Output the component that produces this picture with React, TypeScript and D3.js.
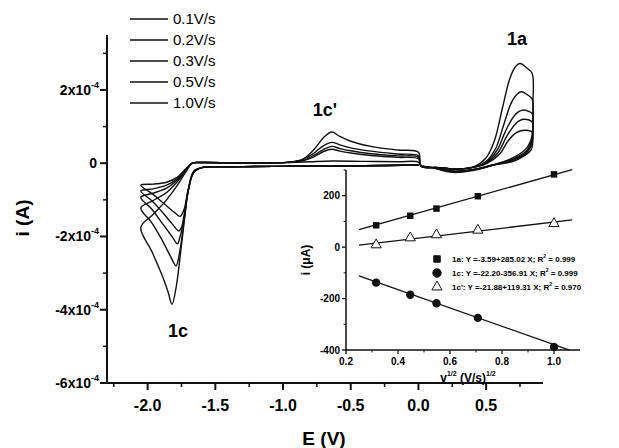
import React from 'react'
import * as d3 from 'd3'

// scan rates (legend)
const rates = ['0.1V/s', '0.2V/s', '0.3V/s', '0.5V/s', '1.0V/s']

// CV traces: [E (V), i (x1e-4 A)]
const cv01 = [
  [0.0, -0.05], [-0.4, -0.07], [-0.9, -0.08], [-1.4, -0.1], [-1.6, -0.12], [-1.66, -0.22], [-1.7, -0.7], [-1.73, -1.25], [-1.76, -1.45], [-1.8, -1.35], [-1.88, -1.1], [-1.96, -0.85], [-2.05, -0.6],
  [-1.96, -0.57], [-1.86, -0.52], [-1.78, -0.38], [-1.72, -0.16], [-1.67, 0.0], [-1.6, 0.02], [-1.2, 0.0], [-0.95, 0.02], [-0.8, 0.04], [-0.64, 0.06], [-0.4, 0.05], [-0.15, 0.04], [0.0, 0.03],
  [0.02, -0.08], [0.15, -0.12], [0.3, -0.16], [0.42, -0.1], [0.5, -0.02], [0.6, 0.25], [0.66, 0.6], [0.71, 0.8], [0.75, 0.88], [0.79, 0.9], [0.84, 0.85], [0.845, 0.6], [0.83, 0.35], [0.78, 0.2], [0.7, 0.05], [0.55, -0.05], [0.4, -0.18], [0.25, -0.22], [0.1, -0.12], [0.02, -0.08],
]
const cv02 = [
  [0.0, -0.05], [-0.4, -0.07], [-0.9, -0.08], [-1.4, -0.1], [-1.6, -0.12], [-1.66, -0.25], [-1.7, -0.75], [-1.73, -1.4], [-1.75, -1.75], [-1.77, -1.85], [-1.82, -1.65], [-1.9, -1.3], [-1.97, -1.02], [-2.05, -0.76],
  [-1.96, -0.7], [-1.86, -0.6], [-1.78, -0.42], [-1.72, -0.18], [-1.67, 0.0], [-1.6, 0.02], [-1.2, 0.0], [-0.95, 0.03], [-0.85, 0.07], [-0.77, 0.18], [-0.7, 0.32], [-0.64, 0.38], [-0.58, 0.33], [-0.5, 0.28], [-0.35, 0.21], [-0.15, 0.16], [0.0, 0.12],
  [0.02, -0.08], [0.15, -0.12], [0.3, -0.16], [0.42, -0.1], [0.5, 0.0], [0.59, 0.3], [0.65, 0.72], [0.7, 1.0], [0.74, 1.15], [0.78, 1.2], [0.84, 1.12], [0.845, 0.8], [0.83, 0.45], [0.79, 0.25], [0.7, 0.08], [0.55, -0.05], [0.4, -0.18], [0.25, -0.22], [0.1, -0.12], [0.02, -0.08],
]
const cv03 = [
  [0.0, -0.05], [-0.4, -0.07], [-0.9, -0.08], [-1.4, -0.1], [-1.6, -0.12], [-1.66, -0.25], [-1.7, -0.75], [-1.73, -1.5], [-1.76, -2.0], [-1.78, -2.2], [-1.82, -2.0], [-1.9, -1.6], [-1.97, -1.25], [-2.05, -0.93],
  [-1.96, -0.82], [-1.86, -0.68], [-1.78, -0.45], [-1.72, -0.2], [-1.67, 0.0], [-1.6, 0.02], [-1.2, 0.0], [-0.95, 0.03], [-0.85, 0.08], [-0.77, 0.22], [-0.7, 0.38], [-0.64, 0.46], [-0.58, 0.4], [-0.5, 0.34], [-0.35, 0.26], [-0.15, 0.2], [0.0, 0.16],
  [0.02, -0.08], [0.15, -0.12], [0.3, -0.16], [0.42, -0.1], [0.5, 0.02], [0.58, 0.35], [0.64, 0.85], [0.69, 1.2], [0.73, 1.38], [0.77, 1.45], [0.81, 1.42], [0.84, 1.35], [0.845, 0.95], [0.83, 0.5], [0.79, 0.28], [0.7, 0.1], [0.55, -0.05], [0.4, -0.18], [0.25, -0.22], [0.1, -0.12], [0.02, -0.08],
]
const cv05 = [
  [0.0, -0.05], [-0.4, -0.07], [-0.9, -0.08], [-1.4, -0.1], [-1.6, -0.12], [-1.66, -0.25], [-1.7, -0.75], [-1.73, -1.55], [-1.76, -2.35], [-1.79, -2.8], [-1.83, -2.55], [-1.9, -2.05], [-1.97, -1.62], [-2.05, -1.22],
  [-1.96, -1.02], [-1.86, -0.8], [-1.78, -0.5], [-1.72, -0.22], [-1.67, 0.0], [-1.6, 0.02], [-1.2, 0.0], [-0.95, 0.03], [-0.85, 0.1], [-0.77, 0.28], [-0.7, 0.48], [-0.64, 0.57], [-0.58, 0.5], [-0.5, 0.42], [-0.35, 0.33], [-0.15, 0.25], [0.0, 0.2],
  [0.02, -0.08], [0.15, -0.12], [0.3, -0.16], [0.42, -0.1], [0.5, 0.05], [0.57, 0.4], [0.63, 1.05], [0.68, 1.6], [0.72, 1.85], [0.76, 1.95], [0.8, 1.88], [0.84, 1.75], [0.845, 1.2], [0.835, 0.6], [0.8, 0.35], [0.7, 0.12], [0.55, -0.05], [0.4, -0.18], [0.25, -0.22], [0.1, -0.12], [0.02, -0.08],
]
const cv10 = [
  [0.0, -0.05], [-0.4, -0.07], [-0.9, -0.08], [-1.4, -0.1], [-1.6, -0.12], [-1.66, -0.25], [-1.7, -0.75], [-1.73, -1.6], [-1.76, -2.55], [-1.79, -3.4], [-1.82, -3.85], [-1.85, -3.5], [-1.9, -3.0], [-1.97, -2.4], [-2.05, -1.75],
  [-1.96, -1.4], [-1.86, -1.0], [-1.78, -0.6], [-1.72, -0.25], [-1.67, 0.0], [-1.6, 0.02], [-1.2, 0.0], [-0.95, 0.03], [-0.85, 0.12], [-0.77, 0.38], [-0.7, 0.7], [-0.64, 0.85], [-0.58, 0.73], [-0.5, 0.6], [-0.35, 0.46], [-0.15, 0.36], [0.0, 0.3],
  [0.02, -0.08], [0.15, -0.12], [0.3, -0.16], [0.42, -0.08], [0.5, 0.15], [0.56, 0.6], [0.62, 1.5], [0.67, 2.25], [0.71, 2.6], [0.75, 2.72], [0.8, 2.6], [0.84, 2.45], [0.845, 1.6], [0.84, 0.75], [0.8, 0.42], [0.7, 0.15], [0.55, -0.05], [0.4, -0.2], [0.25, -0.25], [0.1, -0.12], [0.02, -0.08],
]
const traces = [cv01, cv02, cv03, cv05, cv10]

// inset: peak currents (uA) vs sqrt(scan rate)
const sqrtRate = [0.316, 0.447, 0.548, 0.707, 1.0]
const peak1a = [85, 122, 150, 198, 283]
const peak1c = [-138, -185, -218, -275, -388]
const peak1cp = [5, 32, 44, 62, 88]
const fitIntercept = [-3.59, -22.2, -21.88]
const fitSlope = [285.02, -356.91, 119.31]
const fitText = [
  '1a: Y =-3.59+285.02 X; R',
  '1c: Y =-22.20-356.91 X; R',
  "1c': Y =-21.88+119.31 X; R",
]
const fitR2 = ['0.999', '0.999', '0.970']

const xTicks = [-2.0, -1.5, -1.0, -0.5, 0.0, 0.5]
const yTicks = [2, 0, -2, -4, -6]
const insetXTicks = [0.2, 0.4, 0.6, 0.8, 1.0]
const insetYTicks = [200, 0, -200, -400]

const font = "'Liberation Sans', Arial, sans-serif"

export default function App() {
  const x = d3.scaleLinear().domain([-2.3, 0.92]).range([107, 543])
  const y = d3.scaleLinear().domain([-6, 3.5]).range([383, 35])
  const ix = d3.scaleLinear().domain([0.2, 1.1]).range([346, 580])
  const iy = d3.scaleLinear().domain([-400, 300]).range([350, 170])

  const line = d3.line<number[]>()
    .x(d => x(d[0]))
    .y(d => y(d[1]))
    .curve(d3.curveCatmullRom.alpha(0.5))

  const xMinor = d3.range(-2.25, 0.8, 0.5)
  const yMinor = [-5, -3, -1, 1, 3]
  const ixMinor = [0.3, 0.5, 0.7, 0.9]
  const iyMinor = [-300, -100, 100, 300]

  const tri = d3.symbol().type(d3.symbolTriangle).size(45)()
  const sq = d3.symbol().type(d3.symbolSquare).size(42)()
  const circ = d3.symbol().type(d3.symbolCircle).size(55)()

  return (
    <svg width={619} height={448} style={{ position: 'absolute', left: 0, top: 0, background: '#fff' }} fontFamily={font}>
      {/* CV traces */}
      {traces.map((t, k) => (
        <path key={k} d={line(t) || ''} fill="none" stroke="#111" strokeWidth={1.4} />
      ))}

      {/* main axes */}
      <line x1={107} x2={107} y1={35} y2={384} stroke="#111" strokeWidth={2} />
      <line x1={106} x2={543} y1={383} y2={383} stroke="#111" strokeWidth={2} />
      {xTicks.map(t => (
        <g key={t}>
          <line x1={x(t)} x2={x(t)} y1={383} y2={390} stroke="#111" strokeWidth={2} />
          <text x={x(t)} y={411} textAnchor="middle" fontSize={16} fontWeight="bold">{t.toFixed(1)}</text>
        </g>
      ))}
      {xMinor.map(t => (
        <line key={t} x1={x(t)} x2={x(t)} y1={383} y2={387} stroke="#111" strokeWidth={1.5} />
      ))}
      {yTicks.map(t => (
        <g key={t}>
          <line x1={100} x2={107} y1={y(t)} y2={y(t)} stroke="#111" strokeWidth={2} />
          {t === 0 ? (
            <text x={97} y={y(t) + 5} textAnchor="end" fontSize={14} fontWeight="bold">0</text>
          ) : (
            <text x={99} y={y(t) + 5} textAnchor="end" fontSize={14} fontWeight="bold">
              {t}x10<tspan fontSize={9} dy={-7}>-4</tspan>
            </text>
          )}
        </g>
      ))}
      {yMinor.map(t => (
        <line key={t} x1={103} x2={107} y1={y(t)} y2={y(t)} stroke="#111" strokeWidth={1.5} />
      ))}
      <text x={324} y={445} textAnchor="middle" fontSize={19} fontWeight="bold">E (V)</text>
      <text transform="translate(29,218) rotate(-90)" textAnchor="middle" fontSize={19} fontWeight="bold">i (A)</text>

      {/* peak labels */}
      <text x={517} y={45} textAnchor="middle" fontSize={18} fontWeight="bold">1a</text>
      <text x={325} y={116} textAnchor="middle" fontSize={18} fontWeight="bold">1c'</text>
      <text x={178} y={337} textAnchor="middle" fontSize={18} fontWeight="bold">1c</text>

      {/* legend */}
      {rates.map((r, k) => (
        <g key={r}>
          <line x1={130} x2={168} y1={19 + k * 21} y2={19 + k * 21} stroke="#111" strokeWidth={1.6} />
          <text x={173} y={24 + k * 21} fontSize={15}>{r}</text>
        </g>
      ))}

      {/* inset axes */}
      <line x1={346} x2={346} y1={170} y2={351} stroke="#111" strokeWidth={1.5} />
      <line x1={345} x2={580} y1={350} y2={350} stroke="#111" strokeWidth={1.5} />
      {insetXTicks.map(t => (
        <g key={t}>
          <line x1={ix(t)} x2={ix(t)} y1={350} y2={354} stroke="#111" strokeWidth={1.3} />
          <text x={ix(t)} y={365} textAnchor="middle" fontSize={10} fontWeight="bold">{t.toFixed(1)}</text>
        </g>
      ))}
      {ixMinor.map(t => (
        <line key={t} x1={ix(t)} x2={ix(t)} y1={350} y2={352.5} stroke="#111" strokeWidth={1} />
      ))}
      {insetYTicks.map(t => (
        <g key={t}>
          <line x1={342} x2={346} y1={iy(t)} y2={iy(t)} stroke="#111" strokeWidth={1.3} />
          <text x={340} y={iy(t) + 3.5} textAnchor="end" fontSize={10} fontWeight="bold">{t}</text>
        </g>
      ))}
      {iyMinor.map(t => (
        <line key={t} x1={343.5} x2={346} y1={iy(t)} y2={iy(t)} stroke="#111" strokeWidth={1} />
      ))}
      <text transform="translate(310,260) rotate(-90)" textAnchor="middle" fontSize={12} fontWeight="bold">i (μA)</text>
      <text x={468} y={382} textAnchor="middle" fontSize={12} fontWeight="bold">
        v<tspan fontSize={7} dy={-6}>1/2</tspan><tspan dy={6}> (V/s)</tspan><tspan fontSize={7} dy={-6}>1/2</tspan>
      </text>

      {/* inset fit lines */}
      {fitIntercept.map((b, k) => (
        <line key={k}
          x1={ix(0.25)} y1={iy(b + fitSlope[k] * 0.25)}
          x2={ix(k === 1 ? 1.06 : 1.07)} y2={iy(b + fitSlope[k] * (k === 1 ? 1.06 : 1.07))}
          stroke="#111" strokeWidth={1.3} />
      ))}
      {sqrtRate.map((v, k) => (
        <g key={v}>
          <path d={sq || ''} transform={`translate(${ix(v)},${iy(peak1a[k])})`} fill="#111" />
          <path d={circ || ''} transform={`translate(${ix(v)},${iy(peak1c[k])})`} fill="#111" />
          <path d={tri || ''} transform={`translate(${ix(v)},${iy(peak1cp[k]) - 1})`} fill="#fff" stroke="#111" strokeWidth={1} />
        </g>
      ))}

      {/* inset legend */}
      {fitText.map((s, k) => (
        <g key={k} transform={`translate(0,${259 + k * 14})`}>
          <path d={(k === 0 ? sq : k === 1 ? circ : tri) || ''} transform="translate(437,0)"
            fill={k === 2 ? '#fff' : '#111'} stroke="#111" strokeWidth={1} />
          <text x={452} y={3} fontSize={8} fontWeight="bold">
            {s}<tspan fontSize={5} dy={-4}>2</tspan><tspan dy={4}> = {fitR2[k]}</tspan>
          </text>
        </g>
      ))}
    </svg>
  )
}
